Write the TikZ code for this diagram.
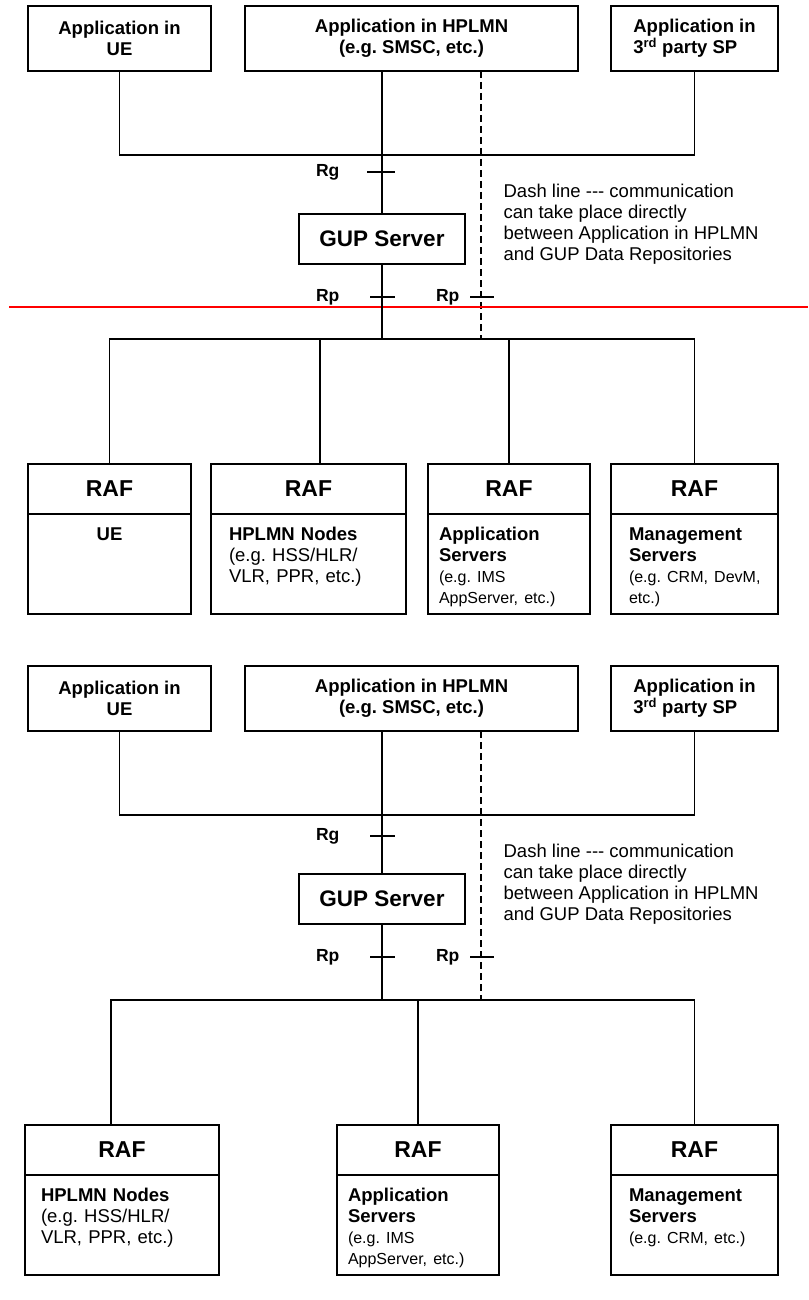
\documentclass[tikz,border=0pt]{standalone}
\usepackage{fontspec}
\setmainfont{Liberation Sans}
\usetikzlibrary{positioning}

\newcommand{\bodyfont}{\fontsize{18.5}{21}\selectfont\frenchspacing}
\newcommand{\smallfont}{\fontsize{16}{21}\selectfont}

\begin{document}
\frenchspacing
\begin{tikzpicture}[x=1pt, y=-1pt, line width=1.2pt,
    app/.style={draw, minimum width=#1, minimum height=65pt, align=center, outer sep=0pt, font=\bfseries\bodyfont},
    gupbox/.style={draw, minimum width=166pt, minimum height=50pt, outer sep=0pt, font=\bfseries\fontsize{22.5}{27}\selectfont},
    rafhead/.style={draw, minimum width=#1, minimum height=50pt, outer sep=0pt, inner sep=0pt, font=\bfseries\fontsize{23}{27}\selectfont},
    rafbody/.style={draw, below=0pt of #1, outer sep=0pt, inner ysep=0pt, text height=26pt, text depth=74pt, align=left, font=\bodyfont},
    refpt/.style={inner sep=0pt, font=\bfseries\fontsize{17.5}{21}\selectfont},
    note/.style={anchor=west, align=left, inner sep=0pt, font=\bodyfont},
    dashline/.style={dash pattern=on 7pt off 4pt}]
    \useasboundingbox (0,0) rectangle (808,1300);

    % first variant
    \node[app=183pt] (ueapp1) at (119.5,38.5) {Application in\\UE};
    \node[app=333pt] (hplmn1) at (411.5,38.5) {Application in HPLMN\\(e.g. SMSC, etc.)};
    \node[app=167pt, align=left] (spapp1) at (694.5,38.5) {Application in\\3\textsuperscript{rd} party SP};
    \node[gupbox] (gup1) at (382,239) {GUP Server};
    \node[note] (dashnote1) at (503,224.5) {Dash line -{}-{}- communication\\can take place directly\\between Application in HPLMN\\and GUP Data Repositories};

    \coordinate (gbus1) at (382,155);
    \coordinate (pbus1) at (382,339);
    \coordinate (dbus1) at (481,339);
    \draw (ueapp1.south) |- (gbus1) -| (spapp1.south);
    \draw (hplmn1.south -| gup1.north) -- (gup1.north);
    \draw[dashline] (hplmn1.south -| dbus1) -- (dbus1);

    \coordinate (rg1) at (382,172);
    \coordinate (rpa1) at (382,297);
    \coordinate (rpb1) at (481,297);
    \draw ([xshift=-15pt]rg1) -- ([xshift=13pt]rg1);
    \draw ([xshift=-12pt]rpa1) -- ([xshift=13pt]rpa1);
    \draw ([xshift=-11pt]rpb1) -- ([xshift=13pt]rpb1);
    \node[refpt, left=42pt of rg1] (rglbl1) {Rg};
    \node[refpt, left=42pt of rpa1] (rplbla1) {Rp};
    \node[refpt, left=21pt of rpb1] (rplblb1) {Rp};

    \draw[red, line width=2pt] (9,307) -- (808,307);

    \node[rafhead=163pt] (raf11) at (109.5,489) {RAF};
    \node[rafhead=195pt] (raf12) at (308.5,489) {RAF};
    \node[rafhead=162pt] (raf13) at (509,489) {RAF};
    \node[rafhead=167pt] (raf14) at (694.5,489) {RAF};
    \node[rafbody=raf11, text width=127pt, inner xsep=18pt, align=center] (body11) {\bfseries UE};
    \node[rafbody=raf12, text width=159pt, inner xsep=18pt] (body12) {\textbf{HPLMN Nodes}\\(e.g.~HSS/HLR/\\VLR,~PPR,~etc.)};
    \node[rafbody=raf13, text width=140pt, inner xsep=11pt] (body13) {\textbf{Application}\\\textbf{Servers}\\{\smallfont (e.g.~IMS\\AppServer,~etc.)}};
    \node[rafbody=raf14, text width=131pt, inner xsep=18pt] (body14) {\textbf{Management}\\\textbf{Servers}\\{\smallfont (e.g.~CRM,~DevM,\\etc.)}};

    \coordinate (p12) at (320,339);
    \draw (gup1.south) -- (pbus1);
    \draw (raf11.north) |- (pbus1) -| (raf14.north);
    \draw (p12) -- (p12 |- raf12.north);
    \draw (raf13.north) -- (raf13.north |- pbus1);

    % second variant
    \node[app=183pt] (ueapp2) at (119.5,698.5) {Application in\\UE};
    \node[app=333pt] (hplmn2) at (411.5,698.5) {Application in HPLMN\\(e.g. SMSC, etc.)};
    \node[app=167pt, align=left] (spapp2) at (694.5,698.5) {Application in\\3\textsuperscript{rd} party SP};
    \node[gupbox] (gup2) at (382,899) {GUP Server};
    \node[note] (dashnote2) at (503,884.5) {Dash line -{}-{}- communication\\can take place directly\\between Application in HPLMN\\and GUP Data Repositories};

    \coordinate (gbus2) at (382,815);
    \coordinate (pbus2) at (382,1000);
    \coordinate (dbus2) at (481,1000);
    \draw (ueapp2.south) |- (gbus2) -| (spapp2.south);
    \draw (hplmn2.south -| gup2.north) -- (gup2.north);
    \draw[dashline] (hplmn2.south -| dbus2) -- (dbus2);

    \coordinate (rg2) at (382,836);
    \coordinate (rpa2) at (382,957);
    \coordinate (rpb2) at (481,957);
    \draw ([xshift=-12pt]rg2) -- ([xshift=13pt]rg2);
    \draw ([xshift=-12pt]rpa2) -- ([xshift=13pt]rpa2);
    \draw ([xshift=-11pt]rpb2) -- ([xshift=13pt]rpb2);
    \node[refpt, left=42pt of rg2] (rglbl2) {Rg};
    \node[refpt, left=42pt of rpa2] (rplbla2) {Rp};
    \node[refpt, left=21pt of rpb2] (rplblb2) {Rp};

    \node[rafhead=194pt] (raf21) at (122,1150) {RAF};
    \node[rafhead=162pt] (raf22) at (418,1150) {RAF};
    \node[rafhead=167pt] (raf23) at (694.5,1150) {RAF};
    \node[rafbody=raf21, text width=162pt, inner xsep=16pt] (body21) {\textbf{HPLMN Nodes}\\(e.g.~HSS/HLR/\\VLR,~PPR,~etc.)};
    \node[rafbody=raf22, text width=140pt, inner xsep=11pt] (body22) {\textbf{Application}\\\textbf{Servers}\\{\smallfont (e.g.~IMS\\AppServer,~etc.)}};
    \node[rafbody=raf23, text width=131pt, inner xsep=18pt] (body23) {\textbf{Management}\\\textbf{Servers}\\{\smallfont (e.g.~CRM,~etc.)}};

    \coordinate (p21) at (111,1000);
    \draw (gup2.south) -- (pbus2);
    \draw (p21 |- raf21.north) |- (pbus2) -| (raf23.north);
    \draw (raf22.north) -- (raf22.north |- pbus2);
\end{tikzpicture}
\end{document}
